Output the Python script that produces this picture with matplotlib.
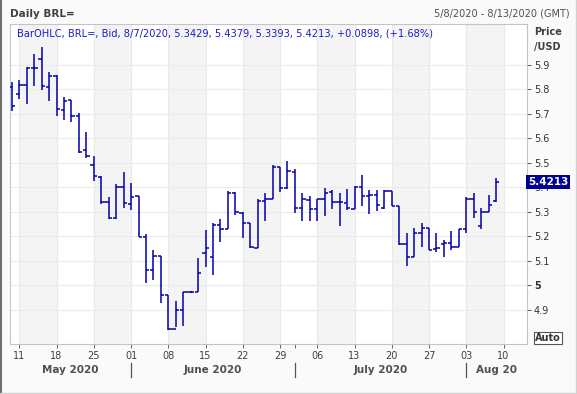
import matplotlib
matplotlib.use("Agg")
import matplotlib.pyplot as plt
import matplotlib.transforms as mtransforms
from matplotlib.lines import Line2D
import pandas as pd

# ---------------- data ----------------
dates = pd.bdate_range("2020-05-08", "2020-08-07")

opens = [5.809, 5.782, 5.818, 5.886, 5.923, 5.809, 5.856, 5.715, 5.756, 5.690,
         5.553, 5.491, 5.444, 5.340, 5.274, 5.401, 5.333, 5.363, 5.199, 5.063,
         5.120, 4.960, 4.821, 4.899, 4.972, 4.975, 5.131, 5.115, 5.246, 5.229,
         5.378, 5.295, 5.254, 5.152, 5.345, 5.353, 5.482, 5.399, 5.462, 5.315,
         5.349, 5.311, 5.353, 5.383, 5.340, 5.337, 5.312, 5.401, 5.365, 5.369,
         5.318, 5.386, 5.326, 5.171, 5.117, 5.216, 5.235, 5.149, 5.171, 5.174,
         5.156, 5.230, 5.354, 5.244, 5.298, 5.3429]
highs = [5.829, 5.839, 5.893, 5.945, 5.975, 5.873, 5.859, 5.768, 5.757, 5.705,
         5.627, 5.529, 5.446, 5.360, 5.413, 5.462, 5.417, 5.367, 5.210, 5.145,
         5.120, 4.960, 4.937, 4.975, 4.979, 5.114, 5.227, 5.256, 5.271, 5.384,
         5.380, 5.300, 5.254, 5.352, 5.376, 5.492, 5.482, 5.508, 5.476, 5.376,
         5.367, 5.353, 5.397, 5.390, 5.376, 5.393, 5.406, 5.451, 5.390, 5.390,
         5.390, 5.386, 5.326, 5.212, 5.233, 5.254, 5.235, 5.212, 5.186, 5.221,
         5.232, 5.361, 5.379, 5.315, 5.369, 5.4379]
lows = [5.713, 5.761, 5.740, 5.816, 5.798, 5.753, 5.693, 5.676, 5.665, 5.542,
        5.519, 5.428, 5.331, 5.271, 5.271, 5.315, 5.308, 5.199, 5.011, 5.022,
        4.930, 4.818, 4.832, 4.835, 4.970, 4.975, 5.077, 5.044, 5.179, 5.229,
        5.288, 5.195, 5.152, 5.152, 5.264, 5.353, 5.383, 5.395, 5.297, 5.264,
        5.261, 5.261, 5.285, 5.311, 5.243, 5.308, 5.311, 5.326, 5.291, 5.305,
        5.311, 5.326, 5.167, 5.081, 5.117, 5.158, 5.143, 5.135, 5.115, 5.143,
        5.156, 5.216, 5.274, 5.232, 5.298, 5.3393]
closes = [5.731, 5.818, 5.886, 5.886, 5.816, 5.856, 5.719, 5.753, 5.690, 5.545,
          5.530, 5.447, 5.340, 5.274, 5.401, 5.335, 5.360, 5.199, 5.063, 5.120,
          4.960, 4.821, 4.899, 4.972, 4.975, 5.050, 5.154, 5.246, 5.229, 5.378,
          5.300, 5.254, 5.156, 5.345, 5.353, 5.482, 5.399, 5.467, 5.315, 5.352,
          5.311, 5.353, 5.379, 5.340, 5.340, 5.315, 5.401, 5.365, 5.369, 5.329,
          5.386, 5.326, 5.171, 5.117, 5.216, 5.235, 5.144, 5.152, 5.174, 5.156,
          5.230, 5.354, 5.298, 5.298, 5.329, 5.4213]

day_labels = ["11", "18", "25", "01", "08", "15", "22", "29", "06", "13",
              "20", "27", "03", "10"]
month_labels = ["May 2020", "June 2020", "July 2020", "Aug 20"]
y_ticks = [4.9, 5.0, 5.1, 5.2, 5.3, 5.4, 5.5, 5.6, 5.7, 5.8, 5.9]
y_tick_labels = ["4.9", "5", "5.1", "5.2", "5.3", "5.4", "5.5", "5.6", "5.7", "5.8", "5.9"]
last_value = 5.4213
header_text = "BarOHLC, BRL=, Bid, 8/7/2020, 5.3429, 5.4379, 5.3393, 5.4213, +0.0898, (+1.68%)"

# ---------------- figure ----------------
W, H = 577, 394
fig = plt.figure(figsize=(W / 100, H / 100), dpi=100)
fig.patch.set_facecolor("#fafafa")

ax_l, ax_r, ax_t, ax_b = 10, 527, 24, 344
ax = fig.add_axes([ax_l / W, 1 - ax_b / H, (ax_r - ax_l) / W, (ax_b - ax_t) / H])
ax.set_facecolor("white")

x_left, x_right = -0.25, 69.15
ax.set_xlim(x_left, x_right)
ax.set_ylim(4.761, 6.067)

n = len(opens)
xs = list(range(n))

# weekly positions (Mondays)
monday_idx = [i for i, d in enumerate(pd.bdate_range("2020-05-08", "2020-08-13")) if d.weekday() == 0]

# alternating week shading
for k, m in enumerate(monday_idx):
    if k % 2 == 0 and m + 5 <= x_right + 1:
        ax.axvspan(m, min(m + 5, x_right), color="#f4f4f4", lw=0, zorder=0)

# gridlines
for m in monday_idx:
    ax.axvline(m, color="#e9e9e9", lw=0.8, zorder=0.5)
for yv in y_ticks:
    ax.axhline(yv, color="#ebebeb", lw=0.8, zorder=0.5)

# OHLC bars
bar_color = "#0000a8"
tick_w = 0.45
lw = 1.1
for i in xs:
    ax.plot([i, i], [lows[i], highs[i]], color=bar_color, lw=lw, solid_capstyle="butt", zorder=3)
    ax.plot([i - tick_w, i], [opens[i], opens[i]], color=bar_color, lw=lw, solid_capstyle="butt", zorder=3)
    ax.plot([i, i + tick_w], [closes[i], closes[i]], color=bar_color, lw=lw, solid_capstyle="butt", zorder=3)

for s in ax.spines.values():
    s.set_color("#c4c4c4")
    s.set_linewidth(0.8)

# y axis on the right
ax.yaxis.tick_right()
ax.set_yticks(y_ticks)
ax.set_yticklabels(y_tick_labels)
ax.tick_params(axis="y", which="both", direction="out", length=3, width=0.7,
               color="#555555", labelsize=7, labelcolor="#333333", pad=2)
for lbl in ax.get_yticklabels():
    if lbl.get_text() == "5":
        lbl.set_fontweight("bold")

# x ticks
month_starts = [16, 38, 61]
ax.set_xticks(monday_idx)
ax.set_xticklabels(day_labels)
ax.set_xticks([38], minor=True)
ax.tick_params(axis="x", which="both", direction="out", length=3, width=0.7,
               color="#666666", labelsize=7, labelcolor="#404040", pad=2)

trans = mtransforms.blended_transform_factory(ax.transData, ax.transAxes)
ypx = lambda p: (ax_b - p) / (ax_b - ax_t)
for ms in month_starts:
    ax.add_line(Line2D([ms, ms], [ypx(363), ypx(377)], transform=trans,
                       color="#555555", lw=0.9, clip_on=False))
month_centers = [(x_left + 16) / 2, (16 + 38) / 2, (38 + 61) / 2, (61 + x_right) / 2]
for mc, ml in zip(month_centers, month_labels):
    ax.text(mc, ypx(370), ml, transform=trans, ha="center", va="center",
            fontsize=7.5, fontweight="bold", color="#505050", clip_on=False)

# header text inside plot
ax.text(7 / (ax_r - ax_l), ypx(33), header_text, transform=ax.transAxes,
        ha="left", va="center", fontsize=7.15, color="#1c1cc8", zorder=5)

# last value box
trans_y = mtransforms.blended_transform_factory(ax.transAxes, ax.transData)
ax.text(1.0 + 1 / (ax_r - ax_l), last_value, "5.4213", transform=trans_y, ha="left", va="center",
        fontsize=7.5, fontweight="bold", color="white", zorder=10, clip_on=False,
        bbox=dict(boxstyle="square,pad=0.2", fc="#000094", ec="none"))

# Auto box
fig.text(548 / W, 1 - 338 / H, "Auto", ha="center", va="center", fontsize=7,
         fontweight="bold", color="#333333",
         bbox=dict(boxstyle="square,pad=0.15", fc="white", ec="#555555", lw=0.8))

# titles
fig.text(10 / W, 1 - 14 / H, "Daily BRL=", ha="left", va="center", fontsize=7.5,
         fontweight="bold", color="#404040")
fig.text(570 / W, 1 - 14 / H, "5/8/2020 - 8/13/2020 (GMT)", ha="right", va="center",
         fontsize=7, color="#505050")
fig.text(534 / W, 1 - 39.5 / H, "Price\n/USD", ha="left", va="center", fontsize=7,
         fontweight="bold", color="#404040", linespacing=1.6)

# figure border
fig.add_artist(Line2D([0.5 / W, 0.5 / W], [0, 1], transform=fig.transFigure, color="#707070", lw=1.5))
fig.add_artist(Line2D([0, 1], [1.5 / H, 1.5 / H], transform=fig.transFigure, color="#d0d0d0", lw=1.0))
fig.add_artist(Line2D([1 - 1 / W, 1 - 1 / W], [0, 1], transform=fig.transFigure, color="#d0d0d0", lw=1.0))

fig.savefig("out.png", dpi=100, facecolor=fig.get_facecolor())
